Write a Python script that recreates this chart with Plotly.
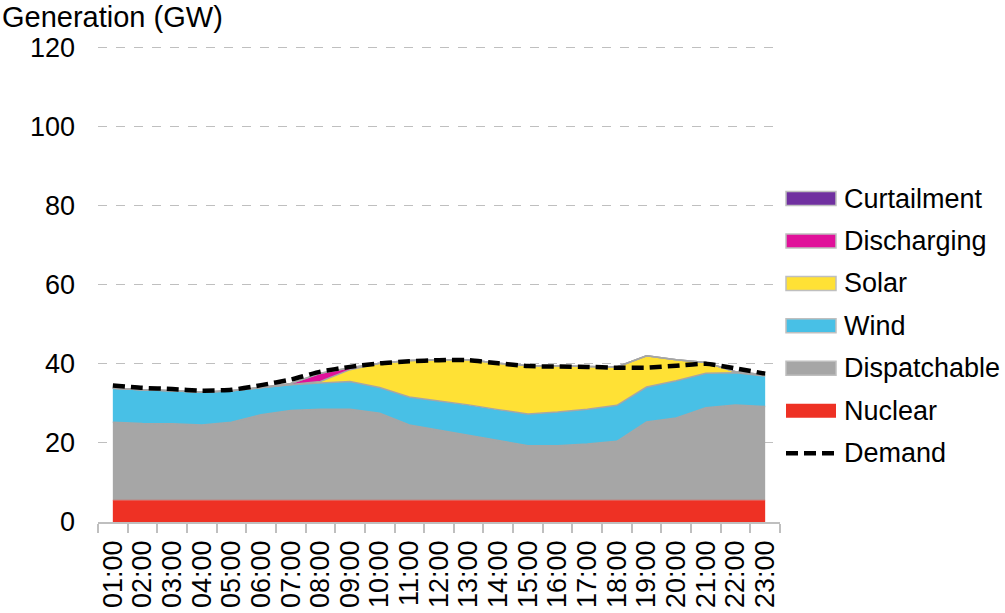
import plotly.graph_objects as go

hours = ["01:00","02:00","03:00","04:00","05:00","06:00","07:00","08:00","09:00","10:00","11:00","12:00",
         "13:00","14:00","15:00","16:00","17:00","18:00","19:00","20:00","21:00","22:00","23:00"]

nuclear      = [5.5]*23
dispatchable = [19.7,19.4,19.3,19.0,19.7,21.6,22.7,23.0,23.0,22.0,19.0,17.7,16.5,15.1,13.8,13.8,14.2,14.9,19.8,20.8,23.4,24.1,23.7]
wind         = [8.6,8.5,8.4,8.3,8.0,6.9,6.5,6.6,7.0,6.5,7.1,7.4,7.6,7.8,8.0,8.5,8.8,9.1,8.8,9.4,8.7,8.1,7.7]
solar        = [0,0,0,0,0,0,0.1,0.4,3.0,6.1,9.2,10.4,11.4,11.7,12.2,11.7,10.8,9.7,7.9,5.3,2.7,0.3,0.3]
discharging  = [0,0,0,0,0,0,0.2,2.1,0.5,0,0,0,0,0,0,0,0,0,0,0,0,0,0]
curtailment  = [0]*23
demand       = [34.5,33.9,33.6,33.2,33.4,34.6,36.0,38.0,39.2,40.1,40.6,40.9,40.9,40.1,39.4,39.3,39.2,39.0,39.0,39.5,40.0,38.8,37.5]

y_ticks = [0,20,40,60,80,100,120]

FONT = "Liberation Sans, Arial, sans-serif"
EDGE = "#A6A6A6"

# layout geometry (pixels)
W, H = 1005, 613
ML, MR, MT, MB = 98, 225, 46, 91
PW, PH = W - ML - MR, H - MT - MB

def px(x):
    return (x - ML) / PW

def py(y):
    return (H - MB - y) / PH

series = [
    ("Nuclear", nuclear, "#EE3124", False),
    ("Dispatchable", dispatchable, "#A6A6A6", True),
    ("Wind", wind, "#48C0E6", True),
    ("Solar", solar, "#FFE135", True),
    ("Discharging", discharging, "#E0119A", True),
    ("Curtailment", curtailment, "#7030A0", True),
]

fig = go.Figure()
for name, vals, col, edged in series:
    fig.add_trace(go.Scatter(
        x=hours, y=vals, name=name, mode="lines", stackgroup="one",
        fillcolor=col,
        line=dict(color=EDGE if edged else col, width=1.5 if edged else 0.5),
        hoverinfo="x+y+name",
    ))

fig.add_trace(go.Scatter(
    x=hours, y=demand, name="Demand", mode="lines",
    line=dict(color="black", width=4.5, dash="12px,6px", shape="spline", smoothing=0.6),
))

# legend (drawn manually to match rectangular swatches)
legend_items = ["Curtailment", "Discharging", "Solar", "Wind", "Dispatchable", "Nuclear", "Demand"]
colors = {name: col for name, _, col, _ in series}
shapes = []
annotations = []
y0, step = 198.5, 42.45
for i, name in enumerate(legend_items):
    yc = y0 + i * step
    if name == "Demand":
        shapes.append(dict(type="line", xref="paper", yref="paper",
                           x0=px(786), x1=px(834), y0=py(yc), y1=py(yc),
                           line=dict(color="black", width=4.5, dash="12px,6px")))
    else:
        edged = name != "Nuclear"
        shapes.append(dict(type="rect", xref="paper", yref="paper",
                           x0=px(786), x1=px(836), y0=py(yc - 7), y1=py(yc + 7),
                           fillcolor=colors[name],
                           line=dict(color="#BFBFBF" if edged else colors[name], width=1.5 if edged else 0)))
    annotations.append(dict(text=name, xref="paper", yref="paper", x=px(842), y=py(yc),
                            xanchor="left", yanchor="middle", showarrow=False,
                            font=dict(family=FONT, size=27, color="black")))

annotations.append(dict(text="Generation (GW)", xref="paper", yref="paper",
                        x=px(0), y=py(17), xanchor="left", yanchor="middle",
                        showarrow=False, font=dict(family=FONT, size=29, color="black")))

fig.update_layout(
    width=W, height=H,
    margin=dict(l=ML, r=MR, t=MT, b=MB, pad=0, autoexpand=False),
    paper_bgcolor="white", plot_bgcolor="white",
    font=dict(family=FONT, size=27, color="black"),
    showlegend=False,
    xaxis=dict(type="category", tickangle=-90, showgrid=False, automargin=False,
               tickmode="linear", dtick=1,
               showline=True, linecolor="#BFBFBF", linewidth=1.5,
               ticks="outside", ticklen=9, tickcolor="#BFBFBF", tickwidth=1.5,
               tickson="boundaries", range=[-0.5, 22.5], ticklabelstandoff=6,
               tickfont=dict(family=FONT, size=27, color="black")),
    yaxis=dict(range=[0, 120.3], tickvals=y_ticks, showgrid=True, automargin=False,
               gridcolor="#BFBFBF", griddash="dash", gridwidth=1,
               showline=False, zeroline=False, ticks="",
               ticklabelstandoff=22,
               tickfont=dict(family=FONT, size=27, color="black")),
    shapes=shapes,
    annotations=annotations,
)

fig.write_html("out.html", config={"displayModeBar": False},
               post_script="document.body.style.margin='0';")
